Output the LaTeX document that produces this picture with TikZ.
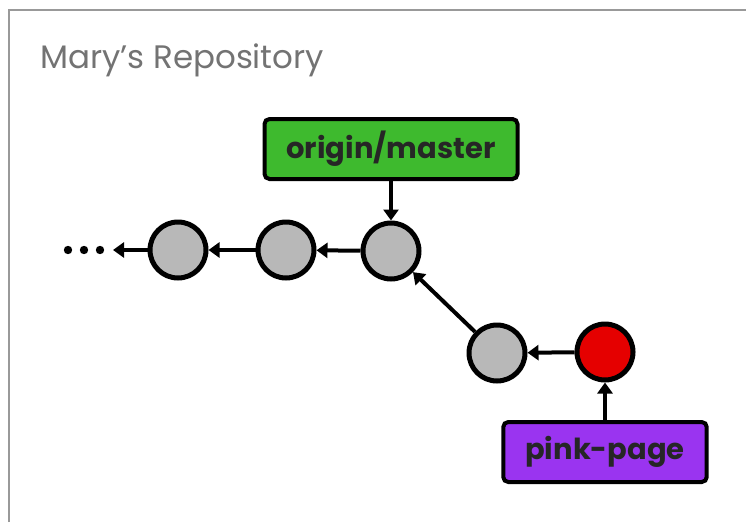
\documentclass[tikz,border=0pt]{standalone}
\usepackage{fontspec}
\setmainfont{Poppins}
\usepackage{xcolor}
\usetikzlibrary{arrows.meta}
\colorlet{commitgray}{black!28}
\colorlet{headred}{red!90!black}
\definecolor{remotegreen}{RGB}{62,186,46}
\definecolor{branchpurple}{RGB}{154,52,240}
\colorlet{framegray}{black!40}
\colorlet{titlegray}{black!55}
\tikzset{
  commit/.style={circle,draw=black,line width=5pt,fill=commitgray,minimum size=56pt,inner sep=0pt},
  refbox/.style={rectangle,rounded corners=5pt,draw=black,line width=4pt,font=\fontsize{29}{32}\selectfont\bfseries,text=black!85,inner xsep=22pt,minimum height=60pt},
  link/.style={line width=4pt,-{Triangle[length=11pt,width=15pt]}},
}

\begin{document}
\begin{tikzpicture}[x=1pt,y=-1pt]
\useasboundingbox (0,0) rectangle (746,522);
% ---- frame and title ----
\draw[framegray,line width=2.5pt] (9,522)--(9,10)--(746,10);
\node[anchor=base west,inner sep=0pt,text=titlegray,font=\fontsize{32.5}{36}\selectfont] (title) at (40,68) {Mary’s Repository};
% ---- commits ----
\node[commit] (c1) at (178,250) {};
\node[commit] (c2) at (286,250) {};
\node[commit] (c3) at (391,251) {};
\node[commit] (c4) at (497,353) {};
\node[commit,fill=headred] (c5) at (605,352) {};
\coordinate (tail) at (113,250);
\foreach \dx in {68,84,100}
  \fill (\dx,250) circle (4.2pt);
\draw[link] (c1) -- (tail);
\draw[link] (c2) -- (c1);
\draw[link] (c3) -- (c2);
\draw[link] (c4) -- (c3);
\draw[link] (c5) -- (c4);
% ---- references ----
\node[refbox,fill=remotegreen] (origin) at (391,149) {origin/master};
\node[refbox,fill=branchpurple] (pink) at (605,452) {pink-page};
\draw[link] (origin) -- (c3);
\draw[link] (pink) -- (c5);
\end{tikzpicture}
\end{document}
